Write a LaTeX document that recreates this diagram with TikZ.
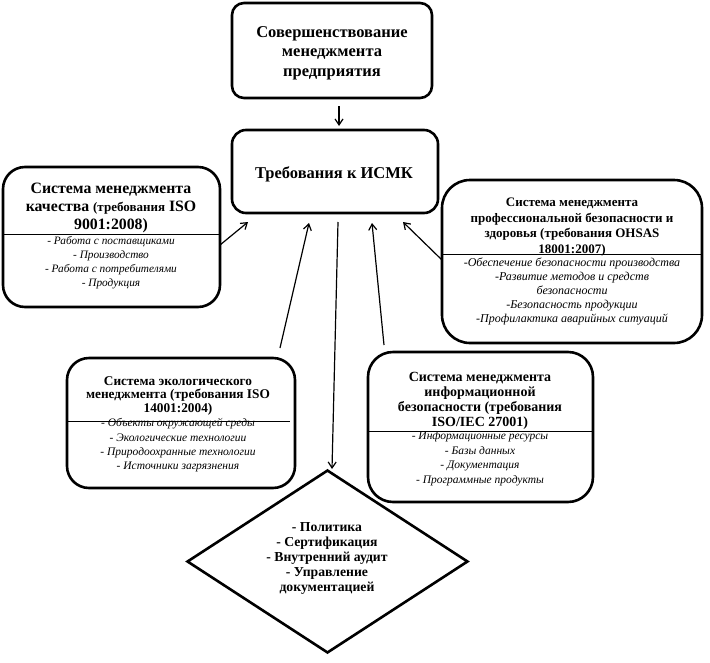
\documentclass[tikz,border=0pt]{standalone}
\usepackage{fontspec}
\setmainfont{Liberation Serif}
\usetikzlibrary{arrows.meta,shapes.geometric}
\begin{document}
\begin{tikzpicture}[x=1pt,y=-1pt,
  box/.style={draw,line width=2.6pt,inner sep=0pt,rounded corners=#1},
  divider/.style={draw,line width=0.8pt},
  arr/.style={line width=1.2pt,-{Straight Barb[length=6pt,width=8pt,line width=1.2pt]}},
  txt/.style={inner sep=0pt,align=center,text=black}
]
\useasboundingbox[fill=white] (0,0) rectangle (710,662);

% boxes
\node[box=12pt,minimum width=200pt,minimum height=95pt] (top) at (332,50.5) {};
\node[box=14pt,minimum width=206pt,minimum height=83pt] (req) at (335,171.5) {};
\node[box=22pt,minimum width=217pt,minimum height=140pt] (qms) at (111.5,237) {};
\node[box=28pt,minimum width=260pt,minimum height=163pt] (ohs) at (572,261.5) {};
\node[box=22pt,minimum width=228pt,minimum height=130pt] (env) at (181,423) {};
\node[box=25pt,minimum width=225pt,minimum height=150pt] (isec) at (480.5,427) {};
\node[draw,diamond,line width=2.6pt,inner sep=0pt,minimum width=281pt,minimum height=183pt] (dia) at (327.5,561.5) {};

% dividers
\draw[divider] (4,234) -- (219,234);
\draw[divider] (443,254) -- (701,254);
\draw[divider] (68,421) -- (290,421);
\draw[divider] (369,431) -- (592,431);

% texts
\node[txt,font=\bfseries\fontsize{16.5}{19.5}\selectfont] (ttop) at (332,53)
  {Совершенствование\\менеджмента\\предприятия};
\node[txt,font=\bfseries\fontsize{16.5}{19}\selectfont] (treq) at (334,174)
  {Требования к ИСМК};
\node[txt,font=\bfseries\fontsize{15.8}{18}\selectfont] (tqms) at (111,207.5)
  {Система менеджмента\\качества {\fontsize{13}{18}\selectfont(требования} ISO\\9001:2008)};
\node[txt,font=\itshape\fontsize{11.3}{14}\selectfont] (lqms) at (111,263)
  {- Работа с поставщиками\\- Производство\\- Работа с потребителями\\- Продукция};
\node[txt,font=\bfseries\fontsize{13}{15.5}\selectfont] (tohs) at (572,227)
  {Система менеджмента\\профессиональной безопасности и\\здоровья (требования OHSAS\\18001:2007)};
\node[txt,font=\itshape\fontsize{12}{14}\selectfont] (lohs) at (572,291.5)
  {-Обеспечение безопасности производства\\-Развитие методов и средств\\безопасности\\-Безопасность продукции\\-Профилактика аварийных ситуаций};
\node[txt,font=\bfseries\fontsize{13.3}{13.5}\selectfont] (tenv) at (178,396)
  {Система экологического\\менеджмента (требования ISO\\14001:2004)};
\node[txt,font=\itshape\fontsize{11.5}{14.3}\selectfont] (lenv) at (178,445.5)
  {- Объекты окружающей среды\\- Экологические технологии\\- Природоохранные технологии\\- Источники загрязнения};
\node[txt,font=\bfseries\fontsize{14}{15}\selectfont] (tisec) at (480,400.5)
  {Система менеджмента\\информационной\\безопасности (требования\\ISO/IEC 27001)};
\node[txt,font=\itshape\fontsize{11.5}{14.5}\selectfont] (lisec) at (480,458.5)
  {- Информационные ресурсы\\- Базы данных\\- Документация\\- Программные продукты};
\node[txt,font=\bfseries\fontsize{13.7}{15}\selectfont] (tdia) at (327,558)
  {- Политика\\- Сертификация\\- Внутренний аудит\\- Управление\\документацией};

% connector end points
\coordinate (a1s) at (339,106);
\coordinate (a1e) at (339,126);
\coordinate (a2s) at (220,245);
\coordinate (a2e) at (248,222);
\coordinate (a3s) at (280,348);
\coordinate (a3e) at (309,223);
\coordinate (a4s) at (338,222);
\coordinate (a4e) at (332,469);
\coordinate (a5s) at (384,345);
\coordinate (a5e) at (372,223);
\coordinate (a6s) at (442,260);
\coordinate (a6e) at (403,222);

\draw[arr] (a1s) -- (a1e);
\draw[arr] (a2s) -- (a2e);
\draw[arr] (a3s) -- (a3e);
\draw[arr] (a4s) -- (a4e);
\draw[arr] (a5s) -- (a5e);
\draw[arr] (a6s) -- (a6e);
\end{tikzpicture}
\end{document}
